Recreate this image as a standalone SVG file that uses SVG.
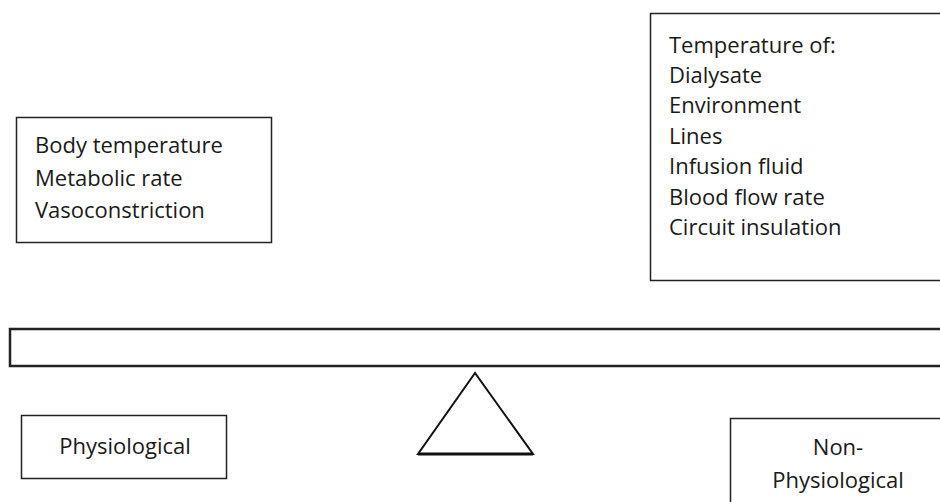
<svg xmlns="http://www.w3.org/2000/svg" width="940" height="502" viewBox="0 0 940 502">
<style>
.box{fill:#fff;stroke:#222;stroke-width:1.5}
.t{font-family:"Open Sans","Liberation Sans",sans-serif;font-size:22px;fill:#1a1a1a}
.c{text-anchor:middle}
</style>
<rect width="940" height="502" fill="#fff"/>
<g id="physio-factors">
<rect class="box" x="16.5" y="117.5" width="255" height="125"/>
<text class="t" x="35" y="153">Body temperature</text>
<text class="t" x="35" y="186">Metabolic rate</text>
<text class="t" x="35" y="218">Vasoconstriction</text>
</g>
<g id="nonphysio-factors">
<rect class="box" x="650.5" y="13.5" width="300" height="267"/>
<text class="t" x="669" y="53">Temperature of:</text>
<text class="t" x="669" y="83">Dialysate</text>
<text class="t" x="669" y="113">Environment</text>
<text class="t" x="669" y="144">Lines</text>
<text class="t" x="669" y="174">Infusion fluid</text>
<text class="t" x="669" y="205">Blood flow rate</text>
<text class="t" x="669" y="235">Circuit insulation</text>
</g>
<g id="beam">
<rect x="10" y="329" width="940" height="37" fill="#fff" stroke="#222" stroke-width="2.5"/>
</g>
<g id="fulcrum">
<polygon points="475,373 418,454 533,454" fill="#fff" stroke="#111" stroke-width="2"/>
<line x1="418" y1="454" x2="533" y2="454" stroke="#111" stroke-width="3"/>
</g>
<g id="physiological">
<rect class="box" x="21.5" y="415.5" width="205" height="63"/>
<text class="t c" x="125" y="454">Physiological</text>
</g>
<g id="non-physiological">
<rect class="box" x="730.5" y="418.5" width="220" height="100"/>
<text class="t c" x="838" y="455">Non-</text>
<text class="t c" x="838" y="488">Physiological</text>
</g>
<g id="connectors"></g>
</svg>
